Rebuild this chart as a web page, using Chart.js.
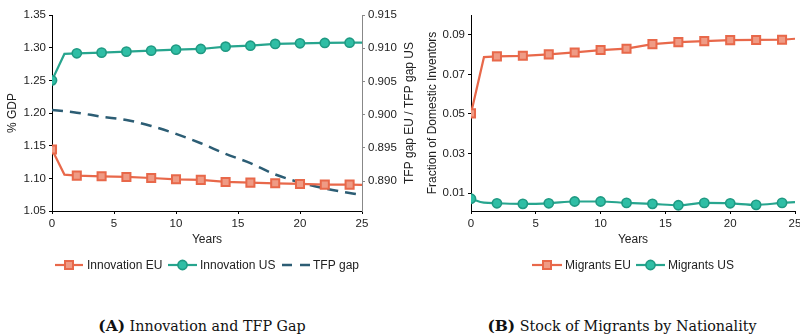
<!DOCTYPE html>
<html><head><meta charset="utf-8">
<script src="https://cdn.jsdelivr.net/npm/chart.js@4/dist/chart.umd.min.js"></script>
<style>
html,body{margin:0;padding:0;width:800px;height:335px;overflow:hidden;background:#fff}
#wa{position:absolute;left:0;top:0;width:420px;height:280px}
#wb{position:absolute;left:420px;top:0;width:390px;height:280px}
.cap{position:absolute;top:317px;font-family:"DejaVu Serif","Liberation Serif",serif;font-size:14.3px;color:#111;white-space:nowrap;transform:translateX(-50%);line-height:18px}
.cap b{font-size:15.5px}
</style></head><body>
<div id="wa"><canvas id="ca" width="420" height="280"></canvas></div>
<div id="wb"><canvas id="cb" width="390" height="280"></canvas></div>
<div class="cap" style="left:202px"><b>(A)</b> Innovation and TFP Gap</div>
<div class="cap" style="left:622px"><b>(B)</b> Stock of Migrants by Nationality</div>
<script>
// ---- data ----
const yearsInnov = [0,1,2,4,6,8,10,12,14,16,18,20,22,24,25];
const innovEU = [1.144,1.1057,1.1041,1.1031,1.1021,1.1005,1.0985,1.0976,1.0945,1.0934,1.0924,1.0914,1.0904,1.0904,1.0899];
const innovUS = [1.250,1.2904,1.2914,1.2924,1.2939,1.2954,1.2970,1.2980,1.3015,1.3030,1.3057,1.3067,1.3072,1.3076,1.3077];
const yearsTFP = [0,2,4,6,8,10,12,14,16,18,20,22,24,25];
const tfpGap = [0.9007,0.9003,0.8997,0.8992,0.8983,0.8971,0.8957,0.8941,0.8927,0.8910,0.8898,0.8889,0.8882,0.8879];
const yearsMig = [0,1,2,4,6,8,10,12,14,16,18,20,22,24,25];
const migEU = [0.0503,0.0787,0.0791,0.0794,0.0801,0.0811,0.0823,0.0830,0.0853,0.0863,0.0868,0.0873,0.0874,0.0875,0.0880];
const migUS = [0.0072,0.0052,0.0049,0.0046,0.0049,0.0058,0.0058,0.0051,0.0046,0.0039,0.0051,0.0049,0.0041,0.0051,0.0055];
const xTicks = [0,5,10,15,20,25];
const leftTicksA = [1.05,1.10,1.15,1.20,1.25,1.30,1.35];
const rightTicksA = [0.890,0.895,0.900,0.905,0.910,0.915];
const ticksB = [0.01,0.03,0.05,0.07,0.09];

// ---- styles ----
const EU_LINE = '#e8684a', EU_FILL = '#ef9b85';
const US_LINE = '#27a58e', US_FILL = '#2fbea5', US_EDGE = '#1f9a83';
const TFP_COL = '#2c5d74';
const TXT = '#222';
const FONT = '"Liberation Sans", Arial, Helvetica, sans-serif';

function pts(xs, ys){ return xs.map((x,i)=>({x:x,y:ys[i]})); }
const evenMarker = r => (ctx => { const p = ctx.raw; return (p && p.x % 2 === 0 && p.x < 25) ? r : 0; });

function euDS(label, xs, ys, axis){
  return {label, data: pts(xs,ys), yAxisID: axis, borderColor: EU_LINE, borderWidth: 2.2,
    backgroundColor: EU_FILL, pointStyle:'rect', pointRadius: evenMarker(5.7), pointBorderWidth: 2,
    pointBorderColor: EU_LINE, pointBackgroundColor: EU_FILL, pointHoverRadius:0, tension:0};
}
function usDS(label, xs, ys, axis, smooth){
  return {label, data: pts(xs,ys), yAxisID: axis, borderColor: US_LINE, borderWidth: 2.2,
    backgroundColor: US_FILL, pointStyle:'circle', pointRadius: evenMarker(4.6), pointBorderWidth: 1.6,
    pointBorderColor: US_EDGE, pointBackgroundColor: US_FILL, pointHoverRadius:0,
    cubicInterpolationMode: smooth ? 'monotone' : 'default', tension: smooth ? 0.4 : 0};
}

function xScale(){
  return {type:'linear', min:0, max:25,
    afterBuildTicks: s => { s.ticks = xTicks.map(v=>({value:v})); },
    afterFit: s => { s.height = 40; },
    grid:{display:true, drawOnChartArea:false, drawTicks:true, tickLength:3, color:'#000', lineWidth:1},
    border:{display:true, color:'#000', width:1},
    ticks:{color:TXT, font:{family:FONT, size:11.5}, padding:3, maxRotation:0, autoSkip:false},
    title:{display:true, text:'Years', color:TXT, font:{family:FONT, size:12}, padding:{top:2,bottom:4}}
  };
}
function yScale(min,max,ticks,dec,width,pos,col,title){
  return {type:'linear', position:pos, min, max,
    afterBuildTicks: s => { s.ticks = ticks.map(v=>({value:v})); },
    afterFit: s => { s.width = width; },
    grid:{display:true, drawOnChartArea:false, drawTicks:true, tickLength:3, color:col, lineWidth:1},
    border:{display:true, color:col, width:1},
    ticks:{color:TXT, font:{family:FONT, size:11.5}, padding:3, autoSkip:false, callback: v => Number(v).toFixed(dec)},
    title: title ? {display:true, text:title, color:TXT, font:{family:FONT, size:12}, padding:{top:5,bottom:4}} : {display:false}
  };
}

function legendPlugin(items, y){
  return {id:'customLegend', afterDraw(chart){
    const c = chart.ctx; c.save();
    items.forEach(it => {
      c.lineWidth = 2.2;
      if (it.type === 'dash'){
        c.strokeStyle = TFP_COL; c.lineWidth = 2.5; c.setLineDash([10,8]);
        c.beginPath(); c.moveTo(it.x0,y); c.lineTo(it.x1,y); c.stroke(); c.setLineDash([]);
      } else {
        const eu = it.type === 'eu';
        c.strokeStyle = eu ? EU_LINE : US_LINE;
        c.beginPath(); c.moveTo(it.x0,y); c.lineTo(it.x1,y); c.stroke();
        const cx = (it.x0+it.x1)/2;
        c.lineWidth = eu ? 2 : 1.6;
        c.fillStyle = eu ? EU_FILL : US_FILL; c.strokeStyle = eu ? EU_LINE : US_EDGE;
        c.beginPath();
        if (eu) c.rect(cx-4, y-4, 8, 8); else c.arc(cx, y, 4.6, 0, Math.PI*2);
        c.fill(); c.stroke();
      }
      c.fillStyle = TXT; c.font = '12px ' + FONT; c.textBaseline = 'middle'; c.textAlign = 'left';
      c.fillText(it.label, it.tx, y+0.5);
    });
    c.restore();
  }};
}

const rightTitlePlugin = {id:'rightTitle', afterDraw(chart){
  const c = chart.ctx; const a = chart.chartArea; c.save();
  c.translate(410, (a.top+a.bottom)/2); c.rotate(-Math.PI/2);
  c.fillStyle = TXT; c.font = '12px ' + FONT; c.textAlign = 'center'; c.textBaseline = 'middle';
  c.fillText('TFP gap EU / TFP gap US', 0, 0); c.restore();
}};

Chart.defaults.font.family = FONT;

new Chart(document.getElementById('ca'), {
  type:'line',
  data:{datasets:[
    euDS('Innovation EU', yearsInnov, innovEU, 'y'),
    usDS('Innovation US', yearsInnov, innovUS, 'y', false),
    {label:'TFP gap', data: pts(yearsTFP, tfpGap), yAxisID:'y2', borderColor:TFP_COL, borderWidth:2.5,
     borderDash:[11,7], pointRadius:0, pointHoverRadius:0, cubicInterpolationMode:'monotone', fill:false}
  ]},
  options:{responsive:false, animation:false, events:[],
    layout:{padding:{top:15, bottom:29, left:0, right:0}},
    plugins:{legend:{display:false}, tooltip:{enabled:false}},
    scales:{
      x: xScale(),
      y: yScale(1.05, 1.35, leftTicksA, 2, 52, 'left', '#000', '% GDP'),
      y2: yScale(0.8855, 0.915, rightTicksA, 3, 58, 'right', '#888', null)
    }
  },
  plugins:[legendPlugin([
    {type:'eu', x0:55, x1:83, tx:87, label:'Innovation EU'},
    {type:'us', x0:168, x1:197, tx:200, label:'Innovation US'},
    {type:'dash', x0:282, x1:310, tx:313, label:'TFP gap'}
  ], 265), rightTitlePlugin]
});

new Chart(document.getElementById('cb'), {
  type:'line',
  data:{datasets:[
    euDS('Migrants EU', yearsMig, migEU, 'y'),
    usDS('Migrants US', yearsMig, migUS, 'y', true)
  ]},
  options:{responsive:false, animation:false, events:[],
    layout:{padding:{top:15, bottom:29, left:0, right:15}},
    plugins:{legend:{display:false}, tooltip:{enabled:false}},
    scales:{
      x: xScale(),
      y: yScale(0.001, 0.1, ticksB, 2, 51, 'left', '#000', 'Fraction of Domestic Inventors')
    }
  },
  plugins:[legendPlugin([
    {type:'eu', x0:112, x1:142, tx:145, label:'Migrants EU'},
    {type:'us', x0:216, x1:245, tx:248, label:'Migrants US'}
  ], 265)]
});
</script>
</body></html>
